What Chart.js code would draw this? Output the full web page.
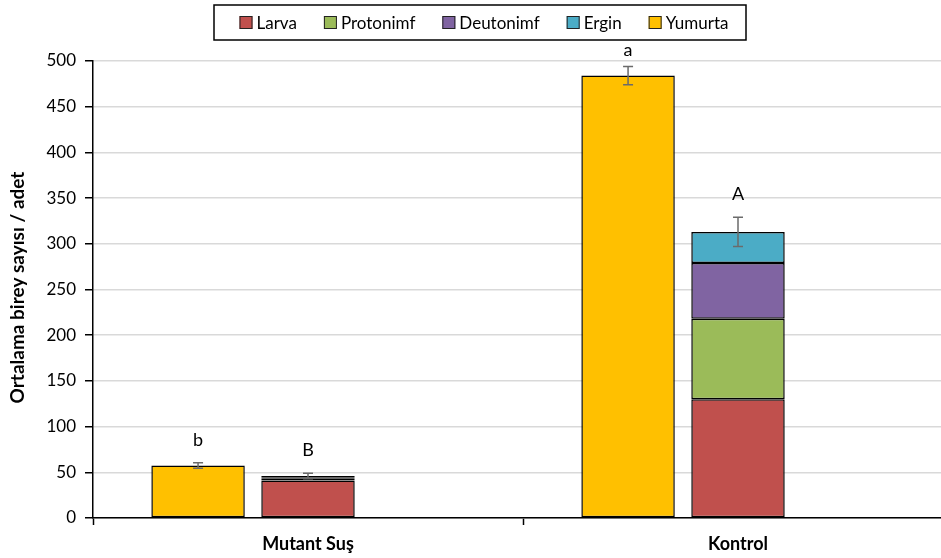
<!DOCTYPE html>
<html>
<head>
<meta charset="utf-8">
<script src="https://cdn.jsdelivr.net/npm/chart.js@4"></script>
<style>
  html, body { margin: 0; padding: 0; background: #fff; overflow: hidden; }
  #wrap { width: 960px; height: 558px; }
</style>
</head>
<body>
<div id="wrap"><canvas id="chart" width="960" height="558"></canvas></div>
<script>
// Kategoriler ve seriler
const groups = ['Mutant Suş', 'Kontrol'];
const yumurta = [57.5, 484];
const larva = [41, 130];
const protonimf = [2, 88];
const deutonimf = [1.5, 61];
const ergin = [1.5, 34];

// Hata çubukları (± SE)
const yumurtaErr = [3, 10];
const stageErr = [3, 16];

// Harfler
const yumurtaLetters = ['b', 'a'];
const stageLetters = ['B', 'A'];

const yTicks = [0, 50, 100, 150, 200, 250, 300, 350, 400, 450, 500];
const yTitle = 'Ortalama birey sayısı / adet';

const FONT = 'Lato, "Liberation Sans", sans-serif';

const colors = {
  Larva: '#C0504D',
  Protonimf: '#9BBB59',
  Deutonimf: '#8064A2',
  Ergin: '#4BACC6',
  Yumurta: '#FFC000'
};

function bar(label, data, stack) {
  return {
    label: label,
    data: data,
    stack: stack,
    // çok ince dilimlerde yalnızca siyah kenar görünür
    backgroundColor: c => (c.raw !== undefined && c.raw < 5 ? '#000' : colors[label]),
    borderColor: '#000',
    borderWidth: 1.5,
    borderSkipped: false,
    barPercentage: 0.85,
    categoryPercentage: 0.767
  };
}

// Hata çubukları ve harfler
const errorBars = {
  id: 'errorBars',
  afterDatasetsDraw(chart) {
    const ctx = chart.ctx;
    const y = chart.scales.y;
    const stageTotal = larva.map((v, i) => v + protonimf[i] + deutonimf[i] + ergin[i]);
    const sets = [
      { meta: chart.getDatasetMeta(0), vals: yumurta, err: yumurtaErr, letters: yumurtaLetters },
      { meta: chart.getDatasetMeta(4), vals: stageTotal, err: stageErr, letters: stageLetters }
    ];
    ctx.save();
    sets.forEach(s => {
      s.meta.data.forEach((el, i) => {
        const x = el.x;
        const top = y.getPixelForValue(s.vals[i] + s.err[i]);
        const bot = y.getPixelForValue(s.vals[i] - s.err[i]);
        ctx.strokeStyle = '#6b6b6b';
        ctx.lineWidth = 1.5;
        ctx.beginPath();
        ctx.moveTo(x, top); ctx.lineTo(x, bot);
        ctx.moveTo(x - 5, top); ctx.lineTo(x + 5, top);
        ctx.moveTo(x - 5, bot); ctx.lineTo(x + 5, bot);
        ctx.stroke();
        // harf çizim alanının hemen üstünde kalsın
        const base = Math.max(top - 17, chart.chartArea.top - 5);
        ctx.fillStyle = '#000';
        ctx.font = '18px ' + FONT;
        ctx.textAlign = 'center';
        ctx.textBaseline = 'alphabetic';
        ctx.fillText(s.letters[i], x, base);
      });
    });
    ctx.restore();
  }
};

// Y ekseni başlığı
const axisTitle = {
  id: 'axisTitle',
  afterDraw(chart) {
    const ctx = chart.ctx;
    const a = chart.chartArea;
    ctx.save();
    ctx.translate(18, (a.top + a.bottom) / 2 - 2);
    ctx.rotate(-Math.PI / 2);
    ctx.font = 'bold 19px ' + FONT;
    ctx.fillStyle = '#000';
    ctx.textAlign = 'center';
    ctx.textBaseline = 'middle';
    ctx.fillText(yTitle, 0, 0);
    ctx.restore();
  }
};

// Çerçeveli gösterge
const boxLegend = {
  id: 'boxLegend',
  afterDraw(chart) {
    const ctx = chart.ctx;
    const order = [1, 2, 3, 4, 0];
    const bx = 214, by = 5, bw = 532, bh = 35;
    ctx.save();
    ctx.font = '17px ' + FONT;
    const items = order.map(i => chart.data.datasets[i].label);
    const sw = 13, gapT = 4, gapI = 27;
    let total = 0;
    items.forEach((lbl, k) => {
      total += sw + gapT + ctx.measureText(lbl).width + (k < items.length - 1 ? gapI : 0);
    });
    ctx.fillStyle = '#fff';
    ctx.fillRect(bx, by, bw, bh);
    ctx.strokeStyle = '#000';
    ctx.lineWidth = 1.5;
    ctx.strokeRect(bx, by, bw, bh);
    let x = bx + (bw - total) / 2 + 4;
    const cy = by + bh / 2;
    items.forEach(lbl => {
      ctx.fillStyle = colors[lbl];
      ctx.fillRect(x, cy - sw / 2, sw, sw);
      ctx.strokeStyle = '#222';
      ctx.lineWidth = 1;
      ctx.strokeRect(x + 0.5, cy - sw / 2 + 0.5, sw - 1, sw - 1);
      x += sw + gapT;
      ctx.fillStyle = '#000';
      ctx.textAlign = 'left';
      ctx.textBaseline = 'middle';
      ctx.fillText(lbl, x, cy + 1);
      x += ctx.measureText(lbl).width + gapI;
    });
    ctx.restore();
  }
};

const padSet = bar('pad', [0, 0], 'pad');
padSet.backgroundColor = 'rgba(0,0,0,0)';
padSet.borderWidth = 0;

new Chart(document.getElementById('chart'), {
  type: 'bar',
  data: {
    labels: groups,
    datasets: [
      bar('Yumurta', yumurta, 'egg'),
      bar('Larva', larva, 'stage'),
      bar('Protonimf', protonimf, 'stage'),
      bar('Deutonimf', deutonimf, 'stage'),
      bar('Ergin', ergin, 'stage'),
      padSet
    ]
  },
  options: {
    responsive: false,
    animation: false,
    layout: { padding: { top: 61, right: 7, left: 0, bottom: 0 } },
    plugins: {
      legend: { display: false },
      tooltip: { enabled: false }
    },
    scales: {
      x: {
        stacked: true,
        offset: true,
        grid: {
          offset: true,
          drawOnChartArea: false,
          drawTicks: true,
          tickLength: 7,
          tickColor: '#000',
          tickWidth: 1.5
        },
        border: { color: '#000', width: 1.5 },
        ticks: {
          color: '#000',
          padding: 8,
          font: { family: FONT, size: 18, weight: 'bold' }
        },
        afterFit(scale) { scale.height = 40; }
      },
      y: {
        stacked: true,
        min: 0,
        max: 500,
        afterBuildTicks(scale) { scale.ticks = yTicks.map(v => ({ value: v })); },
        grid: {
          color: '#d9d9d9',
          lineWidth: 1.5,
          tickColor: '#000',
          tickLength: 8,
          tickWidth: 1.5
        },
        border: { color: '#000', width: 1.5 },
        ticks: {
          color: '#000',
          padding: 9,
          font: { family: FONT, size: 17 }
        },
        afterFit(scale) { scale.width = 93; }
      }
    }
  },
  plugins: [errorBars, axisTitle, boxLegend]
});
</script>
</body>
</html>
